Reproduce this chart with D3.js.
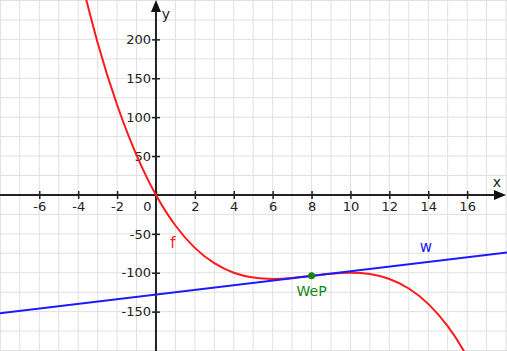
<!DOCTYPE html>
<html>
<head>
<meta charset="utf-8">
<script src="https://cdn.jsdelivr.net/npm/d3@7"></script>
<style>
    body { margin: 0; background: #fff; }
    svg { display: block; font-family: "DejaVu Sans", sans-serif; }
    .grid line { stroke: #e0e0e0; stroke-width: 1; }
    .axis line { stroke: #222; stroke-width: 1.5; }
    .axis text { font-family: "DejaVu Sans", sans-serif; font-size: 13px; fill: #222; }
</style>
</head>
<body>
<div id="chart"></div>
<script>
// values
var fX = [-4, -3, -2, -1, 0, 1, 2, 3, 4, 5, 6, 7, 8, 9, 10, 11, 12, 13, 14, 15, 16, 17];
var fY = [292, 195.75, 116, 51.25, 0, -39.25, -68, -87.75, -100, -106.25, -108, -106.75,
          -104, -101.25, -100, -101.75, -108, -120.25, -140, -168.75, -208, -259.25];
var wX = [-9, 19];
var wY = [-155, -71];
var wendepunkt = [8, -104];
var xTicks = [-6, -4, -2, 0, 2, 4, 6, 8, 10, 12, 14, 16];
var yTicks = [-150, -100, -50, 50, 100, 150, 200];

function init() {

    var width = 507;
    var height = 351;

    var x = d3.scaleLinear().domain([-8.02, 18.05]).range([0, width]);
    var y = d3.scaleLinear().domain([-200.6, 250.6]).range([height, 0]);

    // plain hyphen as minus, like the original
    var fmt = function (d) { return String(d); };

    var svg = d3.select("#chart")
        .append("svg")
        .attr("width", width)
        .attr("height", height);

    // grid: 1 unit in x, 25 units in y
    var grid = svg.append("g").attr("class", "grid");
    grid.selectAll(".gx")
        .data(d3.range(-8, 19))
        .enter().append("line")
        .attr("x1", function (d) { return x(d); })
        .attr("x2", function (d) { return x(d); })
        .attr("y1", 0).attr("y2", height);
    grid.selectAll(".gy")
        .data(d3.range(-200, 251, 25))
        .enter().append("line")
        .attr("y1", function (d) { return y(d); })
        .attr("y2", function (d) { return y(d); })
        .attr("x1", 0).attr("x2", width);

    // axes
    var xAxis = svg.append("g")
        .attr("class", "axis")
        .attr("transform", "translate(0," + y(0) + ")")
        .call(d3.axisBottom(x).tickValues(xTicks).tickFormat(fmt)
            .tickSize(4).tickSizeOuter(0).tickPadding(3));
    xAxis.selectAll(".tick line").attr("y1", -4);
    xAxis.selectAll(".tick text")
        .filter(function (d) { return d === 0; })
        .attr("dx", -9);

    var yAxis = svg.append("g")
        .attr("class", "axis")
        .attr("transform", "translate(" + x(0) + ",0)")
        .call(d3.axisLeft(y).tickValues(yTicks).tickFormat(fmt)
            .tickSize(4).tickSizeOuter(0).tickPadding(1));
    yAxis.selectAll(".tick line").attr("x1", 4);

    svg.selectAll(".axis .domain").remove();
    svg.selectAll(".axis").attr("font-family", null).attr("font-size", null);

    svg.append("line")
        .attr("x1", 0).attr("x2", width - 8)
        .attr("y1", y(0)).attr("y2", y(0))
        .attr("stroke", "#222").attr("stroke-width", 2);
    svg.append("line")
        .attr("x1", x(0)).attr("x2", x(0))
        .attr("y1", 8).attr("y2", height)
        .attr("stroke", "#222").attr("stroke-width", 2);

    // arrow heads
    svg.append("path")
        .attr("d", "M" + (width - 1) + "," + y(0) + "l-12,-5l0,10z")
        .attr("fill", "#111");
    svg.append("path")
        .attr("d", "M" + x(0) + ",0l-5,12l10,0z")
        .attr("fill", "#111");

    svg.append("text").attr("x", 497).attr("y", 187)
        .attr("text-anchor", "middle").attr("font-size", 14).attr("fill", "#222").text("x");
    svg.append("text").attr("x", 166).attr("y", 19)
        .attr("text-anchor", "middle").attr("font-size", 14).attr("fill", "#222").text("y");

    // curves
    svg.append("defs").append("clipPath").attr("id", "plot")
        .append("rect").attr("width", width).attr("height", height);

    var fLine = d3.line()
        .x(function (d, i) { return x(fX[i]); })
        .y(function (d, i) { return y(fY[i]); })
        .curve(d3.curveNatural);

    var wLine = d3.line()
        .x(function (d, i) { return x(wX[i]); })
        .y(function (d, i) { return y(wY[i]); });

    var plot = svg.append("g").attr("clip-path", "url(#plot)");

    plot.append("path")
        .datum(fX)
        .attr("d", fLine)
        .attr("fill", "none")
        .attr("stroke", "#ff1a1a")
        .attr("stroke-width", 2);

    plot.append("path")
        .datum(wX)
        .attr("d", wLine)
        .attr("fill", "none")
        .attr("stroke", "#1a1aff")
        .attr("stroke-width", 2);

    plot.append("circle")
        .attr("cx", x(wendepunkt[0]))
        .attr("cy", y(wendepunkt[1]))
        .attr("r", 3.5)
        .attr("fill", "#118811");

    // labels
    svg.append("text").attr("x", x(8)).attr("y", 296)
        .attr("text-anchor", "middle").attr("font-size", 14).attr("fill", "#118811").text("WeP");
    svg.append("text").attr("x", 173).attr("y", 248)
        .attr("text-anchor", "middle").attr("font-size", 15).attr("fill", "#ff1a1a").text("f");
    svg.append("text").attr("x", 426).attr("y", 252)
        .attr("text-anchor", "middle").attr("font-size", 15).attr("fill", "#1a1aff").text("w");
}

window.onload = init;
</script>
</body>
</html>
